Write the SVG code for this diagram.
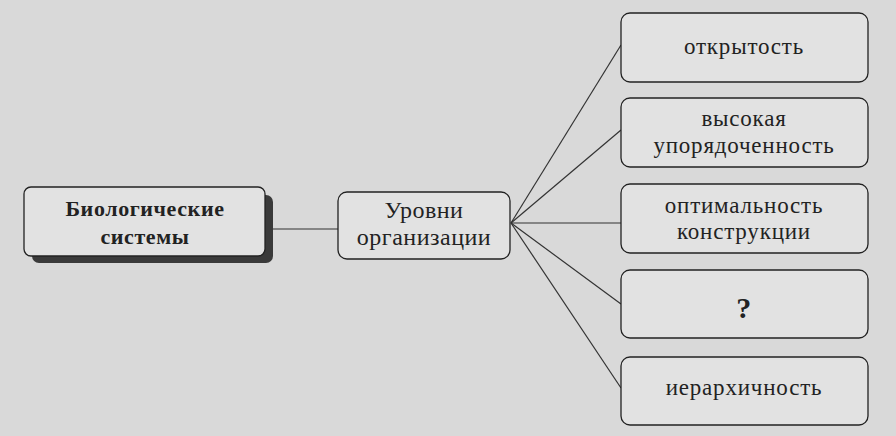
<svg xmlns="http://www.w3.org/2000/svg" width="896" height="436" viewBox="0 0 896 436">
<style>
.box{fill:#e2e2e2;stroke:#222;stroke-width:1.3}
.t{font-family:"Liberation Serif","DejaVu Serif",serif;font-size:23px;letter-spacing:0.8px;fill:#222;text-anchor:middle}
.b{font-weight:bold;font-size:22px;letter-spacing:0.6px}
.c{stroke:#333;stroke-width:1.2;fill:none}
</style>
<rect x="0" y="0" width="896" height="436" fill="#d9d9d9"/>
<g id="connectors">
<line class="c" x1="265" y1="229" x2="338" y2="229"/>
<line class="c" x1="511" y1="223" x2="621" y2="45"/>
<line class="c" x1="511" y1="223" x2="621" y2="130"/>
<line class="c" x1="511" y1="223" x2="621" y2="223"/>
<line class="c" x1="511" y1="223" x2="621" y2="304"/>
<line class="c" x1="511" y1="223" x2="621" y2="388"/>
</g>
<g id="bio">
<rect x="32" y="195" width="241" height="68" rx="7" fill="#3a3a3a"/>
<rect class="box" x="24" y="187" width="241" height="69" rx="7"/>
<text class="t b" x="145" y="216">Биологические</text>
<text class="t b" x="145" y="244">системы</text>
</g>
<g id="levels">
<rect class="box" x="338" y="192" width="172" height="67" rx="9"/>
<text class="t" x="424" y="218" style="font-size:24px;letter-spacing:0.5px">Уровни</text>
<text class="t" x="424" y="245" style="font-size:24px;letter-spacing:0.5px">организации</text>
</g>
<g id="n1">
<rect class="box" x="621" y="13" width="247" height="69" rx="9"/>
<text class="t" x="744" y="54">открытость</text>
</g>
<g id="n2">
<rect class="box" x="621" y="98" width="247" height="69" rx="9"/>
<text class="t" x="744" y="126">высокая</text>
<text class="t" x="744" y="153">упорядоченность</text>
</g>
<g id="n3">
<rect class="box" x="621" y="184" width="247" height="69" rx="9"/>
<text class="t" x="744" y="213">оптимальность</text>
<text class="t" x="744" y="239">конструкции</text>
</g>
<g id="n4">
<rect class="box" x="621" y="270" width="247" height="68" rx="9"/>
<text class="t b" x="744" y="318" style="font-size:30px">?</text>
</g>
<g id="n5">
<rect class="box" x="621" y="357" width="247" height="68" rx="9"/>
<text class="t" x="744" y="395">иерархичность</text>
</g>
</svg>
